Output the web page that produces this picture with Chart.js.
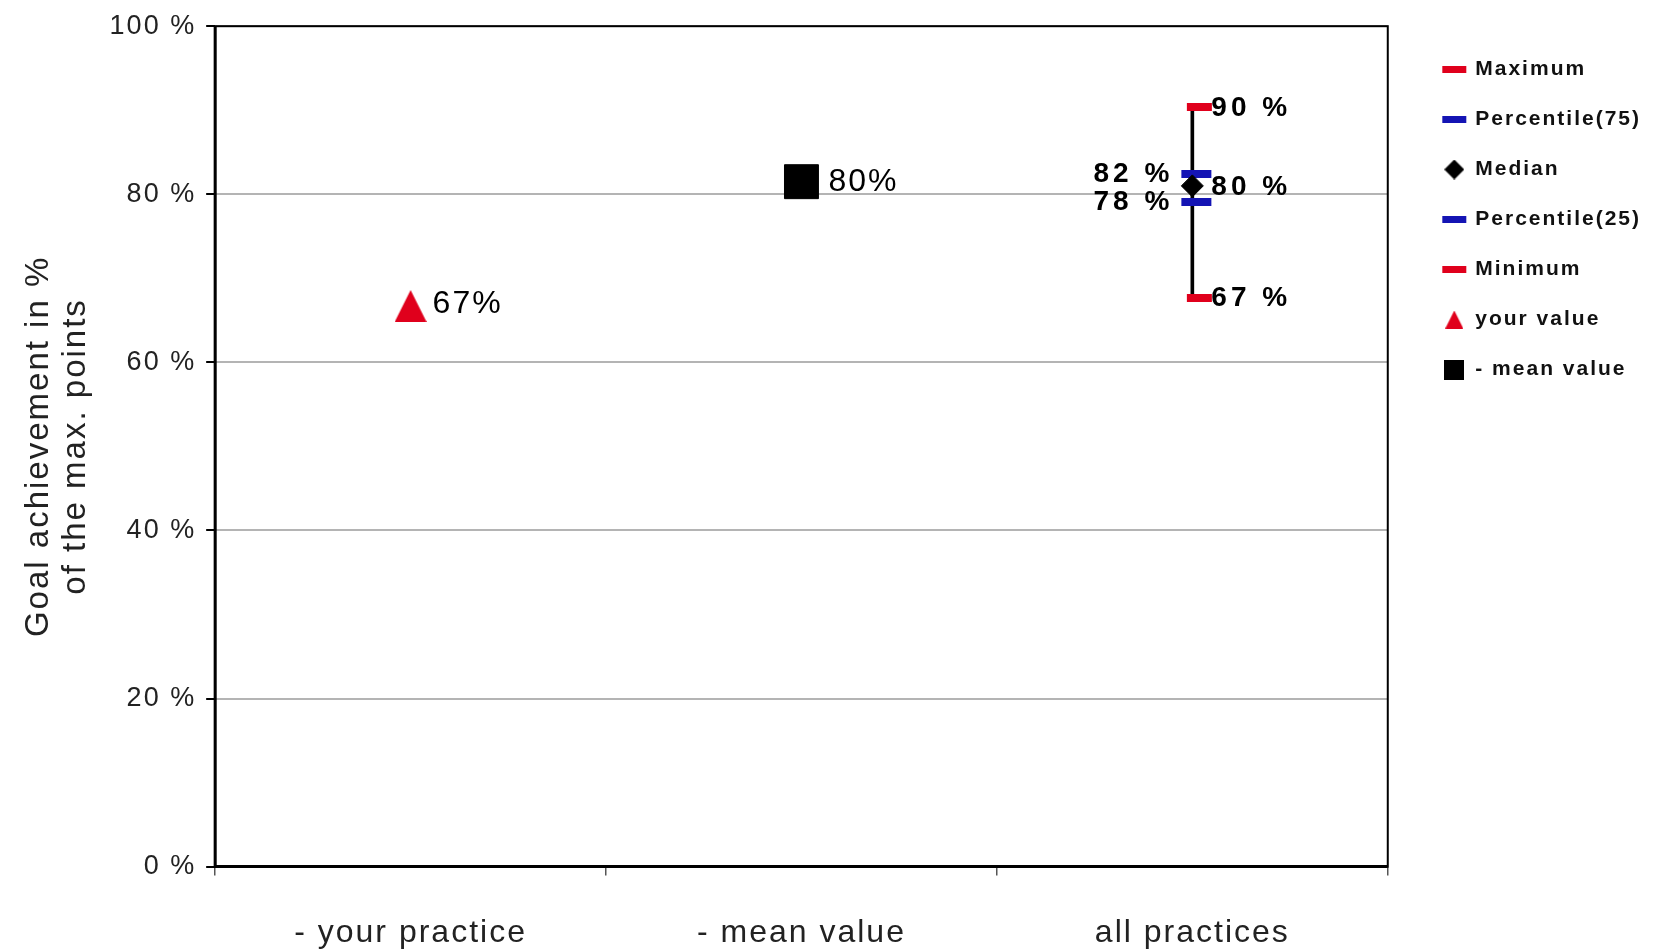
<!DOCTYPE html>
<html>
<head>
<meta charset="utf-8">
<script src="https://cdn.jsdelivr.net/npm/chart.js@4/dist/chart.umd.min.js"></script>
<style>
  html, body { margin: 0; padding: 0; background: #fff; }
  #wrap { width: 1661px; height: 952px; }
</style>
</head>
<body>
<div id="wrap"><canvas id="goalChart"></canvas></div>
<script>
// categories and values
const categories = ['- your practice', '- mean value', 'all practices'];
const maximum      = [null, null, 90.4];
const percentile75 = [null, null, 82.4];
const median       = [null, null, 81.0];
const percentile25 = [null, null, 79.1];
const minimum      = [null, null, 67.7];
const yourValue    = [66.7, null, null];
const meanValue    = [null, 81.5, null];
const highLow      = [null, null, [67.7, 90.4]];

// printed value labels as shown in the picture
const maximumLabels      = [null, null, '90 %'];
const percentile75Labels = [null, null, '82 %'];
const medianLabels       = [null, null, '80 %'];
const percentile25Labels = [null, null, '78 %'];
const minimumLabels      = [null, null, '67 %'];
const yourValueLabels    = ['67%', null, null];
const meanValueLabels    = [null, '80%', null];

const yTicks = [0, 20, 40, 60, 80, 100];

const FONT = 'Liberation Sans, Arial, sans-serif';
const RED = '#e0001c';
const BLUE = '#1414b4';

// small marker images
function makeDash(color, w, h, shift) {
    const c = document.createElement('canvas');
    c.width = w + 2 * Math.abs(shift) + 2;
    c.height = h;
    const g = c.getContext('2d');
    g.fillStyle = color;
    g.fillRect(c.width / 2 - w / 2 + shift, 0, w, h);
    return c;
}
function makeShape(kind, color, size) {
    const c = document.createElement('canvas');
    c.width = size; c.height = size;
    const g = c.getContext('2d');
    g.fillStyle = color;
    g.beginPath();
    if (kind === 'triangle') {
        g.moveTo(size / 2, 0); g.lineTo(size, size); g.lineTo(0, size);
    } else if (kind === 'diamond') {
        g.moveTo(size / 2, 0); g.lineTo(size, size / 2); g.lineTo(size / 2, size); g.lineTo(0, size / 2);
    } else {
        g.rect(0, 0, size, size);
    }
    g.closePath();
    g.fill();
    return c;
}

const legendIcons = {
    'Maximum': makeDash(RED, 24, 7, 0),
    'Percentile(75)': makeDash(BLUE, 24, 7, 0),
    'Median': makeShape('diamond', '#000', 20),
    'Percentile(25)': makeDash(BLUE, 24, 7, 0),
    'Minimum': makeDash(RED, 24, 7, 0),
    'your value': makeShape('triangle', RED, 18),
    '- mean value': makeShape('square', '#000', 20)
};

// letter spacing to match the wide original lettering
const spacingPlugin = {
    id: 'spacing',
    beforeLayout(chart) { chart.ctx.letterSpacing = '2px'; },
    beforeDraw(chart) { chart.ctx.letterSpacing = '2px'; }
};

// black frame round the plot area
const framePlugin = {
    id: 'frame',
    afterDatasetsDraw(chart) {
        const a = chart.chartArea;
        const ctx = chart.ctx;
        ctx.save();
        ctx.strokeStyle = '#000';
        ctx.lineWidth = 2;
        ctx.strokeRect(a.left, a.top, a.right - a.left, a.bottom - a.top);
        ctx.lineWidth = 3;
        ctx.beginPath();
        ctx.moveTo(a.left, a.top); ctx.lineTo(a.left, a.bottom); ctx.lineTo(a.right, a.bottom);
        ctx.stroke();
        ctx.restore();
    }
};

// value labels next to the markers
const valueLabelPlugin = {
    id: 'valueLabels',
    afterDatasetsDraw(chart) {
        const ctx = chart.ctx;
        chart.data.datasets.forEach((ds, di) => {
            if (!ds.valueLabels) return;
            const meta = chart.getDatasetMeta(di);
            ds.valueLabels.forEach((txt, i) => {
                if (!txt || !meta.data[i]) return;
                const pt = meta.data[i];
                const o = ds.labelStyle;
                ctx.save();
                ctx.font = o.font;
                ctx.letterSpacing = o.spacing;
                ctx.fillStyle = '#000';
                ctx.textBaseline = 'middle';
                ctx.textAlign = o.dx < 0 ? 'right' : 'left';
                ctx.fillText(txt, pt.x + o.dx, pt.y + o.dy);
                ctx.restore();
            });
        });
    }
};

const boldRight = { font: 'bold 28px ' + FONT, spacing: '4px', dx: 19, dy: 1 };
const boldLeft  = { font: 'bold 28px ' + FONT, spacing: '4px', dx: -19, dy: 0 };

const ctx = document.getElementById('goalChart');
new Chart(ctx, {
    type: 'line',
    data: {
        labels: categories,
        datasets: [
            {
                label: 'Maximum', data: maximum, valueLabels: maximumLabels, labelStyle: boldRight,
                showLine: false, pointStyle: makeDash(RED, 25, 8, 7), order: 2
            },
            {
                label: 'Percentile(75)', data: percentile75, valueLabels: percentile75Labels, labelStyle: boldLeft,
                showLine: false, pointStyle: makeDash(BLUE, 30, 8, 4), order: 2
            },
            {
                label: 'Median', data: median, valueLabels: medianLabels, labelStyle: boldRight,
                showLine: false, pointStyle: 'rectRot', pointRadius: 11,
                backgroundColor: '#000', borderColor: '#000', borderWidth: 1, order: 1
            },
            {
                label: 'Percentile(25)', data: percentile25, valueLabels: percentile25Labels, labelStyle: boldLeft,
                showLine: false, pointStyle: makeDash(BLUE, 30, 8, 4), order: 2
            },
            {
                label: 'Minimum', data: minimum, valueLabels: minimumLabels, labelStyle: boldRight,
                showLine: false, pointStyle: makeDash(RED, 25, 8, 7), order: 2
            },
            {
                label: 'your value', data: yourValue, valueLabels: yourValueLabels,
                labelStyle: { font: '32px ' + FONT, spacing: '2px', dx: 22, dy: -2 },
                showLine: false, pointStyle: makeShape('triangle', RED, 32), order: 1
            },
            {
                label: '- mean value', data: meanValue, valueLabels: meanValueLabels,
                labelStyle: { font: '32px ' + FONT, spacing: '2px', dx: 27, dy: 0 },
                showLine: false, pointStyle: 'rect', pointRadius: 24,
                backgroundColor: '#000', borderColor: '#000', borderWidth: 1, order: 1
            },
            {
                type: 'bar', label: '', data: highLow,
                backgroundColor: '#000', barThickness: 3, order: 10
            }
        ]
    },
    options: {
        responsive: true,
        maintainAspectRatio: false,
        animation: false,
        events: [],
        layout: { autoPadding: false, padding: { top: 20, left: 21, right: 10, bottom: -38 } },
        scales: {
            x: {
                offset: true,
                grid: { offset: true, drawOnChartArea: false, drawTicks: true, tickLength: 9, tickColor: '#555', lineWidth: 1.5 },
                border: { display: false },
                ticks: { color: '#222', padding: 38, font: { family: FONT, size: 32 } }
            },
            y: {
                min: 0, max: 100,
                afterBuildTicks(axis) { axis.ticks = yTicks.map(v => ({ value: v })); },
                grid: { color: '#b4b4b4', lineWidth: 2, tickColor: '#000', tickLength: 9, drawTicks: true },
                border: { display: false },
                ticks: { color: '#222', padding: 10, font: { family: FONT, size: 27 }, callback: v => v + ' %' },
                title: {
                    display: true,
                    text: ['Goal achievement in %', 'of the max. points'],
                    color: '#222',
                    font: { family: FONT, size: 33, lineHeight: 1.1 },
                    padding: { top: 0, bottom: 6 }
                }
            },
            // empty right-hand spacer between plot and legend
            gap: {
                type: 'linear', position: 'right', display: true,
                grid: { display: false }, border: { display: false }, ticks: { display: false },
                afterFit(scale) { scale.width = 27; }
            }
        },
        plugins: {
            tooltip: { enabled: false },
            legend: {
                position: 'right',
                align: 'start',
                title: { display: true, text: ' ', padding: 0, font: { size: 10, lineHeight: 1.0 } },
                labels: {
                    usePointStyle: true,
                    color: '#111',
                    padding: 29,
                    font: { family: FONT, size: 21, weight: 'bold' },
                    generateLabels(chart) {
                        return chart.data.datasets
                            .map((ds, i) => ({
                                text: ds.label,
                                pointStyle: legendIcons[ds.label],
                                fontColor: '#111',
                                hidden: false,
                                lineWidth: 0,
                                strokeStyle: 'rgba(0,0,0,0)',
                                fillStyle: 'rgba(0,0,0,0)',
                                datasetIndex: i
                            }))
                            .filter(item => item.text !== '');
                    }
                }
            }
        }
    },
    plugins: [spacingPlugin, framePlugin, valueLabelPlugin]
});
</script>
</body>
</html>
